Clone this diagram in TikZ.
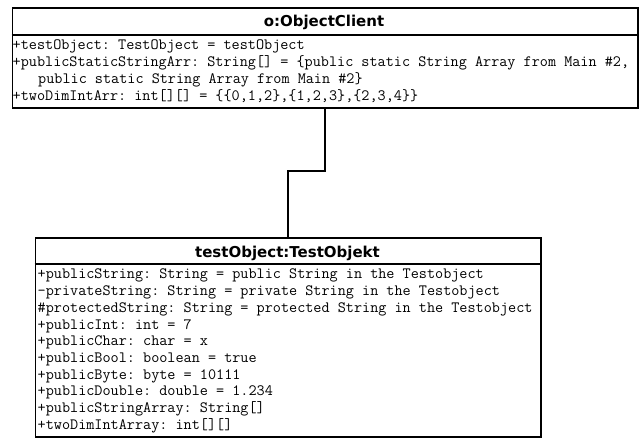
\documentclass[tikz,border=0pt]{standalone}
\usepackage{fontspec}
\newfontfamily\headfont{DejaVu Sans}
\frenchspacing
\begin{document}
\begin{tikzpicture}[x=1pt,y=-1pt,
  objbox/.style={draw=black, line width=1.6pt, fill=white, inner sep=0pt, anchor=north west},
  sepline/.style={draw=black, line width=1.3pt},
  headtext/.style={font=\headfont\bfseries\fontsize{15}{18}\selectfont, inner sep=0pt, anchor=base},
  attr/.style={font=\ttfamily\fontsize{15.75}{17}\selectfont\frenchspacing, inner sep=0pt, anchor=base west},
  link/.style={draw=black, line width=1.8pt}
]
\useasboundingbox (0,0) rectangle (641,438);

% object o:ObjectClient
\node[objbox, minimum width=625.5pt, minimum height=100pt] (client) at (11.5,7) {};
\coordinate (clientsep) at (0,35);
\draw[sepline] (client.west |- clientsep) -- (client.east |- clientsep);
\node[headtext] (clienttitle) at (324,26.7) {o:ObjectClient};
\node[attr] (c1) at (12.5,49.5) {+testObject: TestObject = testObject};
\node[attr] (c2) at (12.5,66.5) {+publicStaticStringArr: String[] = \{public static String Array from Main \#2,};
\node[attr] (c3) at (38,83.5) {public static String Array from Main \#2\}};
\node[attr] (c4) at (12.5,100.3) {+twoDimIntArr: int[][] = \{\{0,1,2\},\{1,2,3\},\{2,3,4\}\}};

% object testObject:TestObjekt
\node[objbox, minimum width=505.5pt, minimum height=199pt] (test) at (34.5,237) {};
\coordinate (testsep) at (0,264);
\draw[sepline] (test.west |- testsep) -- (test.east |- testsep);
\node[headtext] (testtitle) at (287.5,257.3) {testObject:TestObjekt};
\node[attr] (t1) at (37.5,279.0) {+publicString: String = public String in the Testobject};
\node[attr] (t2) at (37.5,295.7) {-privateString: String = private String in the Testobject};
\node[attr] (t3) at (37.5,312.4) {\#protectedString: String = protected String in the Testobject};
\node[attr] (t4) at (37.5,329.1) {+publicInt: int = 7};
\node[attr] (t5) at (37.5,345.8) {+publicChar: char = x};
\node[attr] (t6) at (37.5,362.5) {+publicBool: boolean = true};
\node[attr] (t7) at (37.5,379.2) {+publicByte: byte = 10111};
\node[attr] (t8) at (37.5,395.9) {+publicDouble: double = 1.234};
\node[attr] (t9) at (37.5,412.6) {+publicStringArray: String[]};
\node[attr] (t10) at (37.5,429.3) {+twoDimIntArray: int[][]};

% link between the two objects
\coordinate (bend) at (0,171);
\draw[link] (client.south) -- (client.south |- bend) -| (test.north);
\end{tikzpicture}
\end{document}
